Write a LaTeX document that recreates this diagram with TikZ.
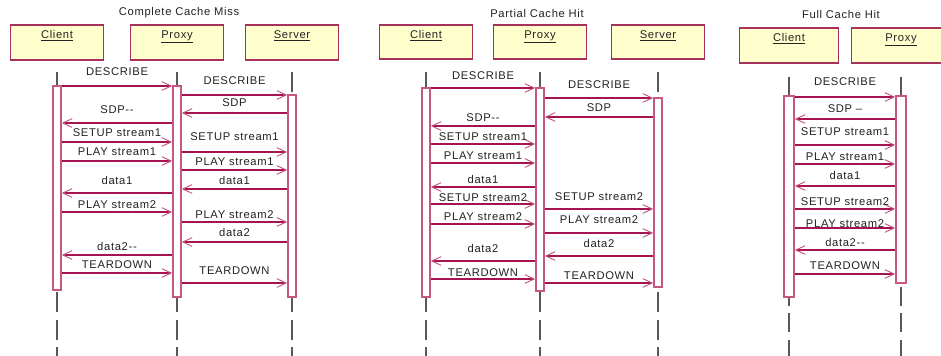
\documentclass[tikz,border=0pt]{standalone}
\usepackage{fontspec}
\setmainfont{Liberation Sans}[LetterSpace=6]
\usetikzlibrary{arrows.meta}

\definecolor{boxline}{RGB}{170,48,92}
\definecolor{boxfill}{RGB}{255,255,206}
\definecolor{msgline}{RGB}{165,20,80}
\definecolor{tipline}{RGB}{200,85,125}
\definecolor{barline}{RGB}{196,88,128}
\definecolor{lifegray}{RGB}{88,88,88}
\definecolor{txt}{RGB}{34,34,34}

% object box: name, centre x, top y, bottom y, width, caption
\newcommand\mkobj[6]{%
  \node[objbox, minimum width={#5*0.75pt}, minimum height={(#4-#3)*0.75pt},
        label={[boxtxt, anchor=base, yshift=-10.5pt]north:\underline{#6}}]
        (#1) at (#2,{(#3+#4)/2}) {};}
% activation bar: name, centre x, top y, bottom y, width
\newcommand\mkbar[5]{%
  \node[actbar, minimum width={#5*0.75pt}, minimum height={(#4-#3)*0.75pt}]
        (#1) at (#2,{(#3+#4)/2}) {};}
% message to the right / to the left: from, to, line y, label y, text
\newcommand\callR[5]{%
  \draw[msg] (#1.east |- 0,#3) -- (#2.west |- 0,#3);
  \path (#1.east |- 0,#4) -- node[msgtxt] {#5} (#2.west |- 0,#4);}
\newcommand\callL[5]{%
  \draw[msg] (#1.west |- 0,#3) -- (#2.east |- 0,#3);
  \path (#1.west |- 0,#4) -- node[msgtxt] {#5} (#2.east |- 0,#4);}

\begin{document}
\begin{tikzpicture}[x=0.75pt,y=-0.75pt,
  objbox/.style={draw=boxline, fill=boxfill, line width=1.1pt, inner sep=0pt},
  boxtxt/.style={text=txt, font=\fontsize{8.4}{10}\selectfont, inner sep=0pt},
  actbar/.style={draw=barline, fill=white, line width=1.1pt, inner sep=0pt},
  lifeln/.style={draw=lifegray, line width=1.1pt},
  msg/.style={draw=msgline, line width=0.8pt,
    -{Straight Barb[length=7pt,width=6.5pt,line width=0.7pt,color=tipline]}},
  msgtxt/.style={text=txt, font=\fontsize{8.4}{10}\selectfont, inner sep=0pt,
    anchor=base, yshift=-3pt},
  ttl/.style={text=txt, font=\fontsize{8.4}{10}\selectfont, inner sep=0pt}]

\useasboundingbox[fill=white] (0,0) rectangle (941,356);

% ---------------- Complete Cache Miss ----------------
\node[ttl] (t1) at (179,13) {Complete Cache Miss};
\mkobj{c1box}{57}{25}{60}{93}{Client}
\mkobj{p1box}{177}{25}{60}{93}{Proxy}
\mkobj{s1box}{292}{25}{60}{93}{Server}
\foreach \b in {c1box,p1box,s1box}
  \draw[lifeln, dash pattern=on 15pt off 5.625pt] (\b.south |- 0,72) -- (\b.south |- 0,360);
\mkbar{c1}{57}{86}{290}{8}
\mkbar{p1}{177}{86}{297}{8}
\mkbar{s1}{292}{95}{297}{8}
\callR{c1}{p1}{86}{72}{DESCRIBE}
\callR{p1}{s1}{95}{81}{DESCRIBE}
\callL{s1}{p1}{113}{103}{SDP}
\callL{p1}{c1}{123}{110}{SDP-{}-}
\callR{c1}{p1}{142}{133}{SETUP stream1}
\callR{p1}{s1}{152}{137}{SETUP stream1}
\callR{c1}{p1}{161}{152}{PLAY stream1}
\callR{p1}{s1}{170}{162}{PLAY stream1}
\callL{s1}{p1}{189}{180}{data1}
\callL{p1}{c1}{193}{180}{data1}
\callR{c1}{p1}{212}{204}{PLAY stream2}
\callR{p1}{s1}{222}{214}{PLAY stream2}
\callL{s1}{p1}{242}{232}{data2}
\callL{p1}{c1}{255}{246}{data2-{}-}
\callR{c1}{p1}{273}{264}{TEARDOWN}
\callR{p1}{s1}{283}{270}{TEARDOWN}

% ---------------- Partial Cache Hit ----------------
\node[ttl] (t2) at (537,13) {Partial Cache Hit};
\mkobj{c2box}{426}{25}{59}{93}{Client}
\mkobj{p2box}{540}{25}{59}{93}{Proxy}
\mkobj{s2box}{658}{25}{59}{93}{Server}
\foreach \b in {c2box,p2box,s2box}
  \draw[lifeln, dash pattern=on 15pt off 5.625pt] (\b.south |- 0,72) -- (\b.south |- 0,360);
\mkbar{c2}{426}{88}{297}{8}
\mkbar{p2}{540}{88}{291}{8}
\mkbar{s2}{658}{98}{287}{8}
\callR{c2}{p2}{88}{76}{DESCRIBE}
\callR{p2}{s2}{98}{85}{DESCRIBE}
\callL{s2}{p2}{117}{108}{SDP}
\callL{p2}{c2}{126}{118}{SDP-{}-}
\callR{c2}{p2}{144}{137}{SETUP stream1}
\callR{c2}{p2}{163}{156}{PLAY stream1}
\callL{p2}{c2}{187}{179}{data1}
\callR{c2}{p2}{204}{197}{SETUP stream2}
\callR{p2}{s2}{209}{196}{SETUP stream2}
\callR{c2}{p2}{224}{216}{PLAY stream2}
\callR{p2}{s2}{233}{219}{PLAY stream2}
\callL{s2}{p2}{256}{243}{data2}
\callL{p2}{c2}{261}{248}{data2}
\callR{c2}{p2}{279}{272}{TEARDOWN}
\callR{p2}{s2}{283}{275}{TEARDOWN}

% ---------------- Full Cache Hit ----------------
\node[ttl] (t3) at (841,14) {Full Cache Hit};
\mkobj{c3box}{789}{28}{63}{99}{Client}
\mkobj{p3box}{901}{28}{63}{99}{Proxy}
\foreach \b in {c3box,p3box}
  \draw[lifeln, dash pattern=on 14.25pt off 5.4375pt] (\b.south |- 0,77) -- (\b.south |- 0,360);
\mkbar{c3}{789}{96}{297}{10}
\mkbar{p3}{901}{96}{283}{10}
\callR{c3}{p3}{97}{82}{DESCRIBE}
\callL{p3}{c3}{119}{109}{SDP --}
\callR{c3}{p3}{145}{132}{SETUP stream1}
\callR{c3}{p3}{164}{157}{PLAY stream1}
\callL{p3}{c3}{186}{176}{data1}
\callR{c3}{p3}{209}{201}{SETUP stream2}
\callR{c3}{p3}{228}{223}{PLAY stream2}
\callL{p3}{c3}{250}{242}{data2-{}-}
\callR{c3}{p3}{274}{265}{TEARDOWN}
\end{tikzpicture}
\end{document}
